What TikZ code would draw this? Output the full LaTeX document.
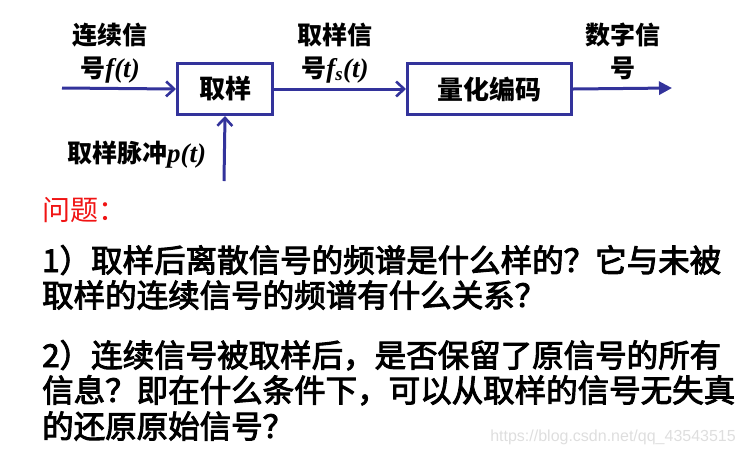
\documentclass[tikz,border=0pt]{standalone}
\usepackage{fontspec}
\setmainfont{Liberation Serif}
\newfontfamily\cjk{Noto Sans CJK SC}
\newfontfamily\cjkq[FakeBold=3]{Noto Sans CJK SC}
\newfontfamily\wmfont{Liberation Sans}
\usetikzlibrary{arrows.meta}
\definecolor{lineblue}{RGB}{51,51,155}
\definecolor{qred}{RGB}{240,20,20}
\definecolor{wmgray}{RGB}{222,222,222}
\newcommand{\bvar}[1]{{\rmfamily\bfseries\itshape\fontsize{27}{28}\selectfont #1}}
\begin{document}
\begin{tikzpicture}[x=1pt,y=-1pt,
  blk/.style={draw=lineblue,line width=3pt,inner sep=0pt,font=\cjk\bfseries\fontsize{26}{28}\selectfont,anchor=north west},
  conn/.style={draw=lineblue,line width=3pt},
  openarr/.style={conn,-{Straight Barb[length=8pt,width=15pt,line width=2.6pt]}},
  fillarr/.style={conn,-{Triangle[length=13pt,width=13pt]}},
  lbl/.style={font=\cjk\bfseries\fontsize{25}{27}\selectfont,inner sep=0pt,align=center},
  qtext/.style={font=\cjkq\fontsize{31.5}{35}\selectfont,inner sep=0pt,anchor=base west}]
\useasboundingbox (0,0) rectangle (749,451);
% blocks
\node[blk,minimum width=95pt,minimum height=51pt] (samp) at (176,62) {取样};
\node[blk,minimum width=164pt,minimum height=51pt] (quant) at (406,62) {量化编码};
% coordinates
\coordinate (in) at (62,88);
\coordinate (out) at (672,88);
\coordinate (pin) at (224,181);
% connectors
\draw[openarr] (in) -- (samp.west);
\draw[openarr] (samp.east) -- (quant.west);
\draw[fillarr] (quant.east) -- (out);
\draw[openarr] (pin) -- (samp.south);
% labels
\node[lbl,anchor=base] (l1a) at (110,44) {连续信};
\node[lbl,anchor=base] (l1b) at (110,77) {号\bvar{f(t)}};
\node[lbl,anchor=base] (l2a) at (335,44) {取样信};
\node[lbl,anchor=base] (l2b) at (335,77) {号\bvar{f\textsubscript{s}(t)}};
\node[lbl,anchor=base] (l3a) at (623,44) {数字信};
\node[lbl,anchor=base] (l3b) at (623,77) {号};
\node[lbl,anchor=base west] (l4) at (67,162) {取样脉冲\bvar{p(t)}};
% questions
\node[qtext,text=qred,font=\cjk\fontsize{28}{30}\selectfont] (q0) at (42,220) {问题：};
\node[qtext] (q1) at (42,272) {1）取样后离散信号的频谱是什么样的？它与未被};
\node[qtext] (q2) at (42,307) {取样的连续信号的频谱有什么关系？};
\node[qtext] (q3) at (42,367) {2）连续信号被取样后，是否保留了原信号的所有};
\node[qtext] (q4) at (42,402) {信息？即在什么条件下，可以从取样的信号无失真};
\node[qtext] (q5) at (42,438) {的还原原始信号？};
\node[font=\wmfont\fontsize{16}{18}\selectfont,text=wmgray,anchor=base east,inner sep=0pt] (wm) at (736,441) {https://blog.csdn.net/qq\_43543515};
\end{tikzpicture}
\end{document}
